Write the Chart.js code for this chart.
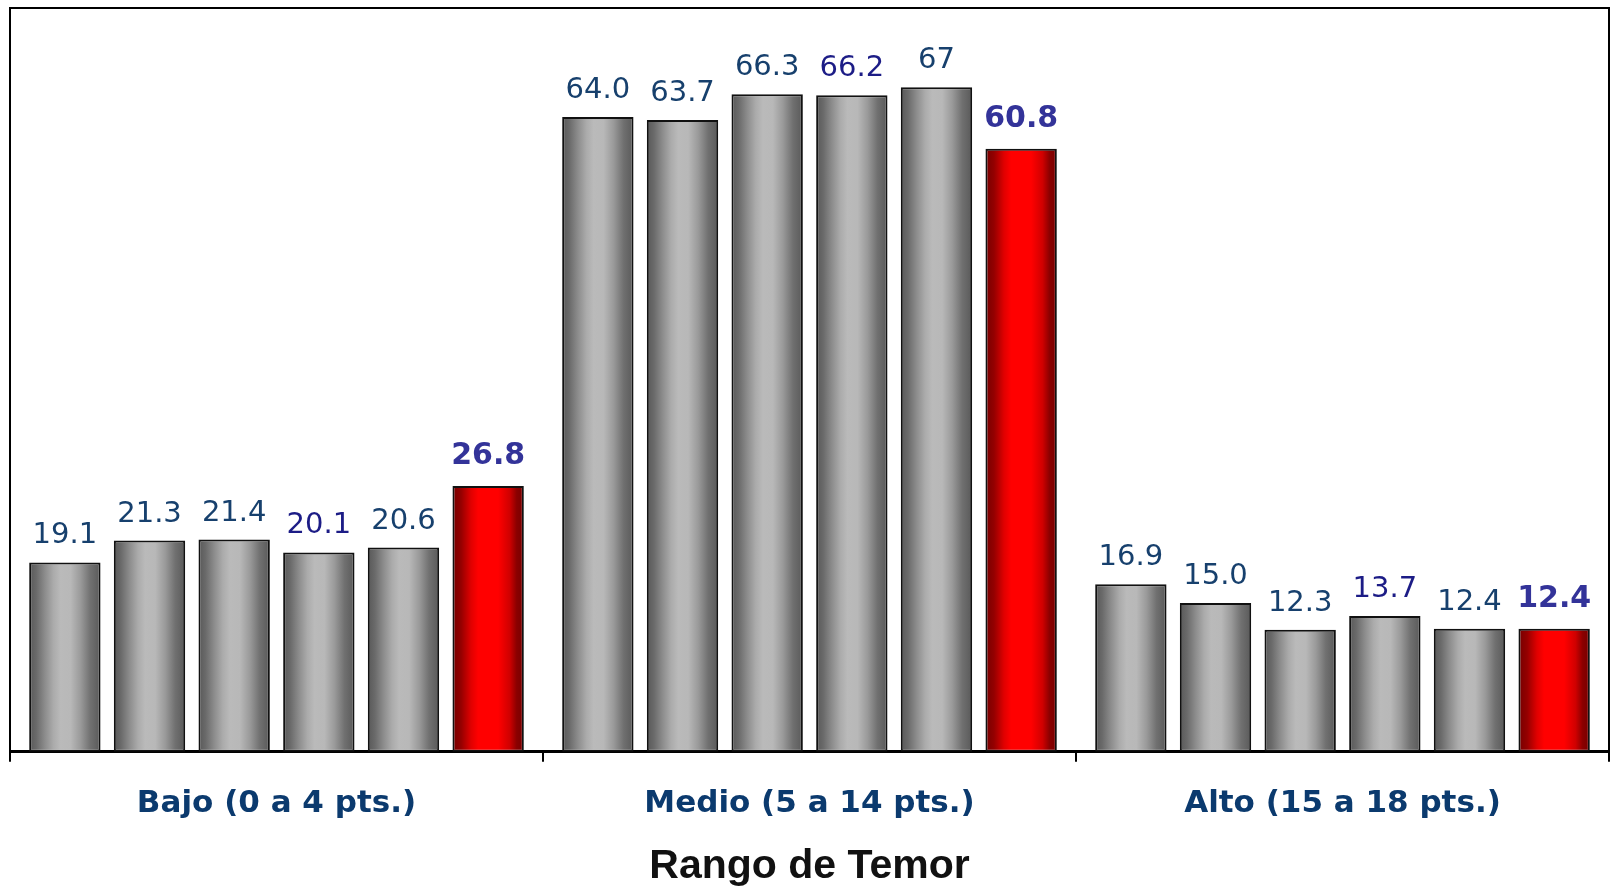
<!DOCTYPE html>
<html>
<head>
<meta charset="utf-8">
<script src="https://cdn.jsdelivr.net/npm/chart.js@4.4.1/dist/chart.umd.min.js"></script>
<style>
  html, body { margin: 0; padding: 0; background: #ffffff; }
  canvas { display: block; }
</style>
</head>
<body>
<canvas id="c" width="1613" height="886"></canvas>
<script>
// ---- data ----
const categories = ['Bajo (0 a 4 pts.)', 'Medio (5 a 14 pts.)', 'Alto (15 a 18 pts.)'];
const serie1 = [19.1, 64.0, 16.9];
const serie2 = [21.3, 63.7, 15.0];
const serie3 = [21.4, 66.3, 12.3];
const serie4 = [20.1, 66.2, 13.7];
const serie5 = [20.6, 67, 12.4];
const serie6 = [26.8, 60.8, 12.4];
const texto1 = ['19.1', '64.0', '16.9'];
const texto2 = ['21.3', '63.7', '15.0'];
const texto3 = ['21.4', '66.3', '12.3'];
const texto4 = ['20.1', '66.2', '13.7'];
const texto5 = ['20.6', '67', '12.4'];
const texto6 = ['26.8', '60.8', '12.4'];
const yMin = 0;
const yMax = 75;
const axisTitle = 'Rango de Temor';

const seriesValues = [serie1, serie2, serie3, serie4, serie5, serie6];
const seriesTexts = [texto1, texto2, texto3, texto4, texto5, texto6];
const labelColors = ['#17406d', '#17406d', '#17406d', '#1c1c86', '#17406d', '#333399'];
const highlight = [false, false, false, false, false, true];

const datasets = seriesValues.map((vals, i) => ({
  label: 'Serie ' + (i + 1),
  data: vals,
  texts: seriesTexts[i],
  labelColor: labelColors[i],
  highlight: highlight[i],
  backgroundColor: highlight[i] ? '#ff0000' : '#b0b0b0',
  borderColor: '#111111',
  borderWidth: 2,
  borderSkipped: false,
  categoryPercentage: 0.953,
  barPercentage: 0.843
}));

const gradientPlugin = {
  id: 'cylGradient',
  beforeDatasetsDraw(chart) {
    const ctx = chart.ctx;
    chart.data.datasets.forEach((ds, di) => {
      const meta = chart.getDatasetMeta(di);
      meta.data.forEach(el => {
        const x0 = el.x - el.width / 2, x1 = el.x + el.width / 2;
        const g = ctx.createLinearGradient(x0, 0, x1, 0);
        if (ds.highlight) {
          g.addColorStop(0, '#760000');
          g.addColorStop(0.12, '#940000');
          g.addColorStop(0.26, '#e00000');
          g.addColorStop(0.36, '#ff0000');
          g.addColorStop(0.64, '#ff0000');
          g.addColorStop(0.80, '#d00000');
          g.addColorStop(0.90, '#8a0000');
          g.addColorStop(1, '#760000');
        } else {
          g.addColorStop(0, '#585858');
          g.addColorStop(0.10, '#6a6a6a');
          g.addColorStop(0.22, '#8c8c8c');
          g.addColorStop(0.34, '#ababab');
          g.addColorStop(0.44, '#bababa');
          g.addColorStop(0.58, '#b8b8b8');
          g.addColorStop(0.72, '#9a9a9a');
          g.addColorStop(0.86, '#707070');
          g.addColorStop(1, '#595959');
        }
        el.options = Object.assign({}, el.options, { backgroundColor: g });
      });
    });
  }
};

const framePlugin = {
  id: 'frame',
  beforeDatasetsDraw(chart) {
    const { ctx, chartArea: a } = chart;
    ctx.save();
    ctx.strokeStyle = '#000000';
    ctx.lineWidth = 2;
    ctx.beginPath();
    ctx.moveTo(a.left, a.bottom);
    ctx.lineTo(a.left, a.top);
    ctx.lineTo(a.right, a.top);
    ctx.lineTo(a.right, a.bottom);
    ctx.stroke();
    ctx.restore();
  }
};

const labelPlugin = {
  id: 'valueLabels',
  afterDatasetsDraw(chart) {
    const ctx = chart.ctx;
    ctx.save();
    ctx.textAlign = 'center';
    ctx.textBaseline = 'alphabetic';
    chart.data.datasets.forEach((ds, di) => {
      const meta = chart.getDatasetMeta(di);
      ctx.fillStyle = ds.labelColor;
      ctx.font = ds.highlight ? 'bold 30px "DejaVu Sans"' : '29px "DejaVu Sans"';
      const gap = ds.highlight ? 22 : 19;
      meta.data.forEach((el, i) => {
        ctx.fillText(ds.texts[i], el.x, el.y - gap);
      });
    });
    ctx.restore();
  }
};

new Chart(document.getElementById('c'), {
  type: 'bar',
  data: { labels: categories, datasets },
  options: {
    responsive: false,
    animation: false,
    devicePixelRatio: 1,
    layout: { padding: { top: 8, left: 10, right: 4, bottom: 0 } },
    plugins: {
      legend: { display: false },
      tooltip: { enabled: false }
    },
    scales: {
      x: {
        grid: {
          display: true,
          offset: true,
          drawOnChartArea: false,
          drawTicks: true,
          tickLength: 10,
          color: '#000000',
          lineWidth: 2
        },
        border: { display: true, color: '#000000', width: 3 },
        ticks: {
          color: '#0b3a6e',
          font: { family: '"DejaVu Sans"', size: 31, weight: 'bold' },
          padding: 24,
          maxRotation: 0
        },
        title: {
          display: true,
          text: axisTitle,
          color: '#111111',
          font: { family: '"Liberation Sans"', size: 41, weight: 'bold', lineHeight: 0.95 },
          padding: { top: 0, bottom: 0 }
        }
      },
      y: {
        display: false,
        min: yMin,
        max: yMax
      }
    }
  },
  plugins: [gradientPlugin, framePlugin, labelPlugin]
});
</script>
</body>
</html>
